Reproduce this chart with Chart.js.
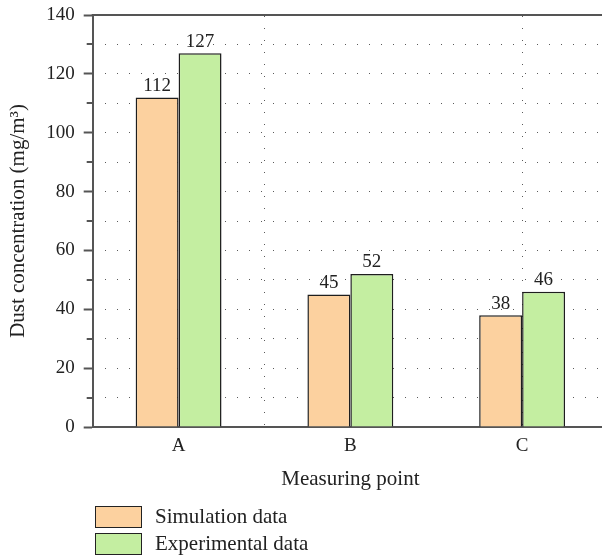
<!DOCTYPE html>
<html>
<head>
<meta charset="utf-8">
<script src="https://cdn.jsdelivr.net/npm/chart.js@4.4.1/dist/chart.umd.min.js"></script>
<style>
  html, body { margin: 0; padding: 0; background: #fff; overflow: hidden; }
  #wrap { position: relative; width: 602px; height: 559px; overflow: hidden; }
  canvas { display: block; }
  #legend { position: absolute; left: 95px; top: 505px; font-family: "Liberation Serif", serif; font-size: 21px; color: #222; }
  .item { display: flex; align-items: center; height: 23px; margin-bottom: 4px; }
  .swatch { width: 45px; height: 20px; border: 1.5px solid #222; margin-right: 13px; }
</style>
</head>
<body>
<div id="wrap">
  <canvas id="chart" width="608" height="559"></canvas>
  <div id="legend"></div>
</div>
<script>
// Measuring points and dust concentrations (mg/m³)
const categories = ['A', 'B', 'C'];
const simulation = [112, 45, 38];
const experimental = [127, 52, 46];
const seriesNames = ['Simulation data', 'Experimental data'];
const seriesColors = ['#FCD19F', '#C4EEA1'];
// vertical dotted guides, in category-index units
const verticalGuides = [0.5, 2];

const FONT = '"Liberation Serif", serif';
const DOT_COLOR = '#5a5a5a';
Chart.defaults.font.family = FONT;
Chart.defaults.font.size = 19;
Chart.defaults.color = '#222';

// top frame line and vertical dotted guides behind the bars
const frame = {
  id: 'frame',
  beforeDatasetsDraw(chart) {
    const { ctx, chartArea: a, scales: { x } } = chart;
    ctx.save();
    ctx.strokeStyle = DOT_COLOR;
    ctx.lineWidth = 1;
    ctx.setLineDash([1, 11]);
    verticalGuides.forEach(v => {
      const px = Math.round(x.getPixelForValue(v)) + 0.5;
      ctx.beginPath();
      ctx.moveTo(px, a.top + 1);
      ctx.lineTo(px, a.bottom);
      ctx.stroke();
    });
    ctx.setLineDash([]);
    ctx.strokeStyle = '#555';
    ctx.lineWidth = 2;
    ctx.beginPath();
    ctx.moveTo(a.left - 1, a.top);
    ctx.lineTo(a.right, a.top);
    ctx.stroke();
    ctx.restore();
  }
};

// value labels above each bar
const barLabels = {
  id: 'barLabels',
  afterDatasetsDraw(chart) {
    const ctx = chart.ctx;
    ctx.save();
    ctx.font = '19px ' + FONT;
    ctx.fillStyle = '#222';
    ctx.textAlign = 'center';
    ctx.textBaseline = 'bottom';
    chart.data.datasets.forEach((ds, i) => {
      chart.getDatasetMeta(i).data.forEach((bar, j) => {
        ctx.fillText(String(ds.data[j]), bar.x, bar.y - 2);
      });
    });
    ctx.restore();
  }
};

// short minor tick marks on the value axis
const minorTicks = {
  id: 'minorTicks',
  afterDraw(chart) {
    const y = chart.scales.y;
    const ctx = chart.ctx;
    ctx.save();
    ctx.strokeStyle = '#555';
    ctx.lineWidth = 2;
    y.ticks.forEach(t => {
      if (t.value % 20 !== 0) {
        const py = Math.round(y.getPixelForValue(t.value));
        ctx.beginPath();
        ctx.moveTo(y.right - 6, py);
        ctx.lineTo(y.right, py);
        ctx.stroke();
      }
    });
    ctx.restore();
  }
};

new Chart(document.getElementById('chart'), {
  type: 'bar',
  data: {
    labels: categories,
    datasets: [
      { label: seriesNames[0], data: simulation, backgroundColor: seriesColors[0], borderColor: '#1e1e1e', borderWidth: 1.5 },
      { label: seriesNames[1], data: experimental, backgroundColor: seriesColors[1], borderColor: '#1e1e1e', borderWidth: 1.5 }
    ]
  },
  options: {
    responsive: false,
    animation: false,
    layout: { padding: { top: 15, right: 0, bottom: 67, left: 6 } },
    datasets: { bar: { categoryPercentage: 0.5, barPercentage: 1.0 } },
    plugins: {
      legend: { display: false },
      tooltip: { enabled: false }
    },
    scales: {
      x: {
        type: 'category',
        position: 'bottom',
        grid: { display: false, drawTicks: false },
        border: { display: true, color: '#555', width: 2 },
        ticks: { padding: 8, font: { size: 19 } },
        title: { display: true, text: 'Measuring point', font: { size: 21 }, padding: { top: 1, bottom: 0 } }
      },
      y: {
        min: 0,
        max: 140,
        afterFit: (s) => { s.paddingTop = 0; },
        ticks: {
          stepSize: 10,
          padding: 9,
          font: { size: 19 },
          callback: (v) => (v % 20 === 0 ? String(v) : '')
        },
        grid: {
          drawTicks: true,
          tickLength: 9,
          tickWidth: 2,
          tickBorderDash: [],
          tickColor: (c) => (c.tick && c.tick.value % 20 === 0 ? '#555' : 'rgba(0,0,0,0)'),
          color: (c) => (c.tick && (c.tick.value === 0 || c.tick.value === 140) ? 'rgba(0,0,0,0)' : DOT_COLOR),
          lineWidth: 1
        },
        border: { display: true, color: '#555', width: 2, dash: [1, 11], dashOffset: 1 },
        title: { display: true, text: 'Dust concentration (mg/m³)', font: { size: 21 }, padding: { top: 0, bottom: 6 } }
      }
    }
  },
  plugins: [frame, barLabels, minorTicks]
});

// legend rows under the plot
const legend = document.getElementById('legend');
seriesNames.forEach((name, i) => {
  const row = document.createElement('div');
  row.className = 'item';
  const sw = document.createElement('div');
  sw.className = 'swatch';
  sw.style.background = seriesColors[i];
  const label = document.createElement('span');
  label.textContent = name;
  row.appendChild(sw);
  row.appendChild(label);
  legend.appendChild(row);
});
</script>
</body>
</html>
